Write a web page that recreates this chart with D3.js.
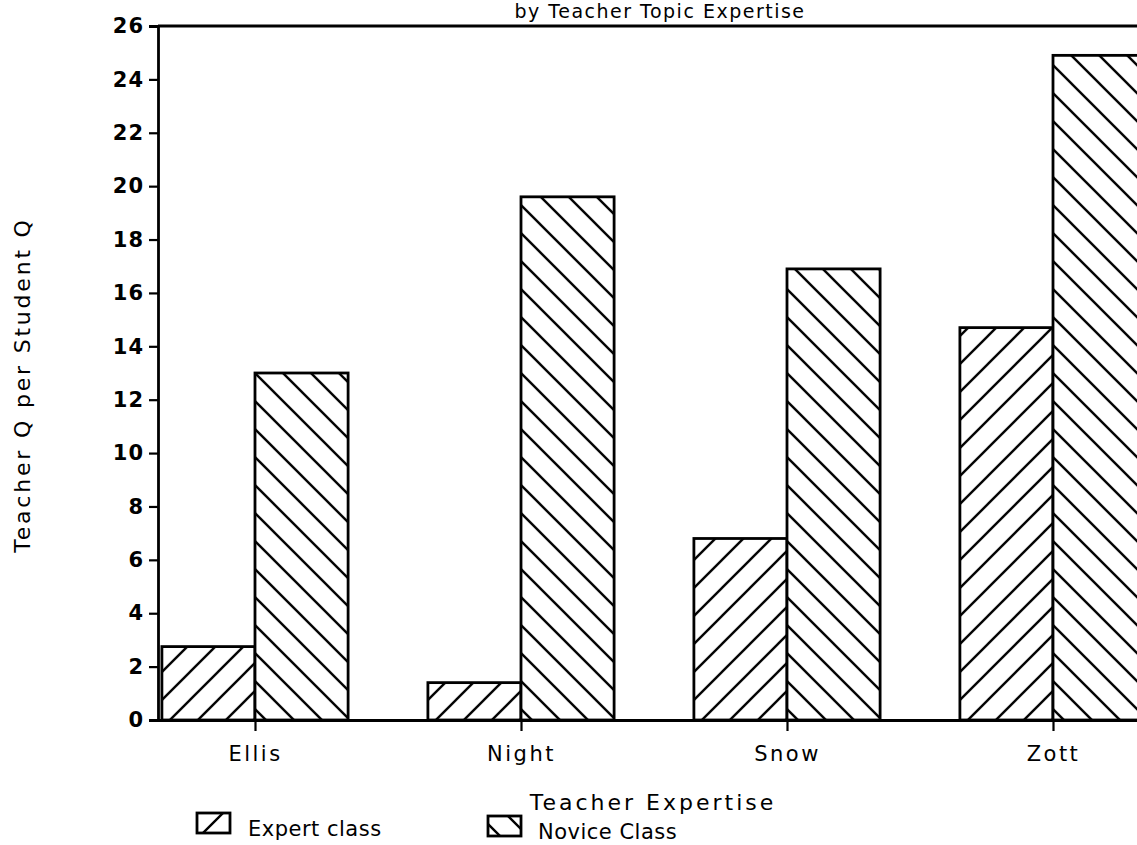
<!DOCTYPE html>
<html>
<head>
<meta charset="utf-8">
<script src="https://cdn.jsdelivr.net/npm/d3@7"></script>
<style>
	body { margin: 0; background: #fff; }
	svg { display: block; font-family: "DejaVu Sans", sans-serif; }
</style>
</head>
<body>
<div id="chart"></div>
<script>
	// data
	let categories = ["Ellis", "Night", "Snow", "Zott"];
	let seriesNames = ["Expert class", "Novice Class"];
	let expertValues = [2.75, 1.4, 6.8, 14.7];
	let noviceValues = [13.0, 19.6, 16.9, 24.9];
	let yTicks = [0, 2, 4, 6, 8, 10, 12, 14, 16, 18, 20, 22, 24, 26];

	let width = 1137, height = 845;
	let svg = d3.select("#chart")
		.append("svg")
		.attr("width", width)
		.attr("height", height);

	// hatch patterns
	let defs = svg.append("defs");
	function hatch(id, forward) {
		let p = defs.append("pattern")
			.attr("id", id)
			.attr("patternUnits", "userSpaceOnUse")
			.attr("width", 28)
			.attr("height", 28);
		p.append("rect").attr("width", 28).attr("height", 28).attr("fill", "#fff");
		let d = forward
			? "M-7,7 L7,-7 M0,28 L28,0 M21,35 L35,21"
			: "M-7,21 L7,35 M0,0 L28,28 M21,-7 L35,7";
		p.append("path").attr("d", d).attr("stroke", "#000").attr("stroke-width", 2.4);
	}
	hatch("hatch-expert", true);
	hatch("hatch-novice", false);
	let fills = ["url(#hatch-expert)", "url(#hatch-novice)"];

	let y = d3.scaleLinear()
		.domain([0, 26])
		.range([720, 26]);

	let x0 = d3.scaleBand()
		.domain(categories)
		.range([122, 1186])
		.paddingInner(0.3)
		.paddingOuter(0.15);

	let x1 = d3.scaleBand()
		.domain(seriesNames)
		.range([0, x0.bandwidth()]);

	let rows = categories.map(function(c, i) {
		return { cat: c, values: [expertValues[i], noviceValues[i]] };
	});

	// bars
	let groups = svg.selectAll("g.cat")
		.data(rows)
		.enter()
		.append("g")
		.attr("class", "cat")
		.attr("transform", function(d) { return "translate(" + x0(d.cat) + ",0)"; });

	groups.selectAll("rect")
		.data(function(d) { return d.values.map(function(v, j) { return { name: seriesNames[j], v: v, j: j }; }); })
		.enter()
		.append("rect")
		.attr("x", function(d) { return x1(d.name); })
		.attr("y", function(d) { return y(d.v); })
		.attr("width", x1.bandwidth())
		.attr("height", function(d) { return y(0) - y(d.v); })
		.attr("fill", function(d) { return fills[d.j]; })
		.attr("stroke", "#000")
		.attr("stroke-width", 2.8);

	// top frame line
	svg.append("line")
		.attr("x1", 158).attr("x2", width)
		.attr("y1", y(26)).attr("y2", y(26))
		.attr("stroke", "#000").attr("stroke-width", 2.8);

	// y axis
	let yAxis = svg.append("g")
		.attr("transform", "translate(158,0)")
		.call(d3.axisLeft(y).tickValues(yTicks).tickSize(9).tickPadding(5));
	yAxis.select(".domain").attr("stroke-width", 2.8);
	yAxis.selectAll(".tick line").attr("stroke-width", 2.2);
	yAxis.selectAll("text")
		.attr("font-size", 21)
		.attr("font-weight", "bold")
		.attr("letter-spacing", 1)
		.attr("font-family", "DejaVu Sans, sans-serif");

	// x axis
	let xCenters = d3.scalePoint()
		.domain(categories)
		.range([x0("Ellis") + x0.bandwidth() / 2, x0("Zott") + x0.bandwidth() / 2]);
	let xAxis = svg.append("g")
		.attr("transform", "translate(0," + y(0) + ")")
		.call(d3.axisBottom(xCenters).tickSize(11).tickPadding(15).tickSizeOuter(0));
	xAxis.select(".domain")
		.attr("d", "M150,0.5H" + width)
		.attr("stroke-width", 2.8);
	xAxis.selectAll(".tick line").attr("stroke-width", 2.2);
	xAxis.selectAll("text")
		.attr("font-size", 21)
		.attr("font-weight", 500)
		.attr("letter-spacing", 2.5)
		.attr("font-family", "DejaVu Sans, sans-serif");

	// titles
	svg.append("text")
		.attr("x", 660).attr("y", 18)
		.attr("text-anchor", "middle")
		.attr("font-size", 19)
		.attr("letter-spacing", 1.5)
		.text("by Teacher Topic Expertise");

	svg.append("text")
		.attr("transform", "translate(30,385) rotate(-90)")
		.attr("text-anchor", "middle")
		.attr("font-size", 22)
		.attr("letter-spacing", 2.8)
		.text("Teacher Q per Student Q");

	svg.append("text")
		.attr("x", 653).attr("y", 810)
		.attr("text-anchor", "middle")
		.attr("font-size", 22)
		.attr("letter-spacing", 3)
		.text("Teacher Expertise");

	// legend
	let legendPos = [{ x: 197, y: 813, tx: 248, ty: 836 }, { x: 488, y: 816, tx: 538, ty: 839 }];
	let legend = svg.selectAll("g.legend")
		.data(seriesNames)
		.enter()
		.append("g")
		.attr("class", "legend");
	legend.append("rect")
		.attr("x", function(d, i) { return legendPos[i].x; })
		.attr("y", function(d, i) { return legendPos[i].y; })
		.attr("width", 33)
		.attr("height", 20)
		.attr("fill", function(d, i) { return fills[i]; })
		.attr("stroke", "#000")
		.attr("stroke-width", 2.8);
	legend.append("text")
		.attr("x", function(d, i) { return legendPos[i].tx; })
		.attr("y", function(d, i) { return legendPos[i].ty; })
		.attr("font-size", 21)
		.attr("letter-spacing", 0.5)
		.text(function(d) { return d; });
</script>
</body>
</html>
